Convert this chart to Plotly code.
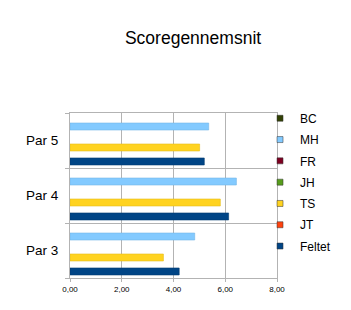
import plotly.graph_objects as go

categories = ["Par 3", "Par 4", "Par 5"]
series_names = ["Feltet", "JT", "TS", "JH", "FR", "MH", "BC"]
feltet = [4.22, 6.13, 5.19]
jt = [None, None, None]
ts = [3.61, 5.81, 5.01]
jh = [None, None, None]
fr = [None, None, None]
mh = [4.82, 6.43, 5.36]
bc = [None, None, None]
colors = ["#004586", "#ff420e", "#ffd320", "#579d1c", "#7e0021", "#83caff", "#314004"]
line_colors = ["#003a70", "#d93a0c", "#e6bd1c", "#4a8518", "#6b001c", "#74b5e6", "#283503"]
values = [feltet, jt, ts, jh, fr, mh, bc]

fig = go.Figure()
for name, vals, c, lc in zip(series_names, values, colors, line_colors):
    fig.add_trace(go.Bar(
        y=categories, x=vals, name=name, orientation="h",
        marker=dict(color=c, line=dict(color=lc, width=0.6)),
        showlegend=False,
    ))
# legend entries with small square keys (top to bottom: BC ... Feltet)
for name, c in reversed(list(zip(series_names, colors))):
    fig.add_trace(go.Scatter(
        x=[None], y=[None], mode="markers", name=name,
        marker=dict(symbol="square", size=6, color=c, line=dict(color="#333333", width=0.5)),
        legendgroup=name,
    ))

fig.update_layout(
    width=351, height=310,
    margin=dict(l=70, r=74, t=113, b=32, autoexpand=False),
    paper_bgcolor="white", plot_bgcolor="white",
    separators=",.",
    barmode="group", bargap=0.11, bargroupgap=0,
    font=dict(family="Liberation Sans, Arial, sans-serif", color="#000000"),
    title=dict(text="Scoregennemsnit", x=0.55, xanchor="center", y=0.877, yanchor="middle",
               font=dict(size=17.5, color="#000000")),
    showlegend=True,
    legend=dict(x=0.918, xanchor="left", y=1.056, yanchor="top", traceorder="grouped",
                font=dict(size=12), tracegroupgap=2.3, itemwidth=30, maxheight=1,
                bgcolor="rgba(0,0,0,0)"),
    xaxis=dict(range=[0, 8], dtick=2, tickformat=".2f", showgrid=True,
               gridcolor="#b3b3b3", gridwidth=1, showline=True, linecolor="#b3b3b3",
               mirror=True, ticks="outside", ticklen=3, tickcolor="#b3b3b3",
               tickfont=dict(size=8), zeroline=False),
    yaxis=dict(categoryorder="array", categoryarray=categories, tickson="boundaries",
               showgrid=True, gridcolor="#b3b3b3", gridwidth=1, showline=True,
               linecolor="#b3b3b3", mirror=True, ticks="outside", ticklen=4,
               tickcolor="#b3b3b3", tickfont=dict(size=13.5), ticklabelstandoff=8),
)

fig.write_html("out.html")
